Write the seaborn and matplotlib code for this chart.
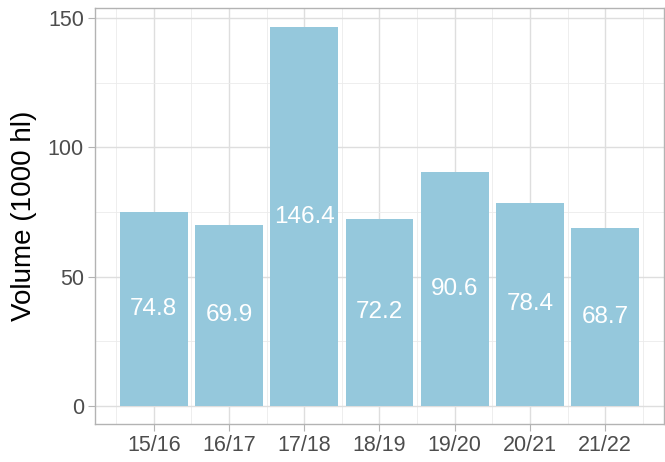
import matplotlib
matplotlib.use("Agg")
import matplotlib.pyplot as plt
import seaborn as sns
import pandas as pd
from matplotlib.ticker import FixedLocator

seasons = ["15/16", "16/17", "17/18", "18/19", "19/20", "20/21", "21/22"]
volumes = [74.8, 69.9, 146.4, 72.2, 90.6, 78.4, 68.7]
y_ticks = [0, 50, 100, 150]

df = pd.DataFrame({"season": seasons, "volume": volumes})

sns.set_theme(style="white")
plt.rcParams["font.family"] = ["Liberation Sans", "DejaVu Sans"]

fig = plt.figure(figsize=(6.65, 4.62), dpi=100)
ax = fig.add_axes([95 / 665, 38 / 462, 569 / 665, 416 / 462])

sns.barplot(data=df, x="season", y="volume", color="#95C8DC", saturation=1,
            width=0.9, ax=ax, zorder=3, linewidth=0, edgecolor="none")

for i, v in enumerate(volumes):
    ax.text(i, v / 2, f"{v:.1f}", ha="center", va="center", color="white",
            fontsize=17.5, zorder=4)

ax.set_xlim(-0.78, 6.78)
ax.set_ylim(-7.0, 153.8)
ax.yaxis.set_major_locator(FixedLocator(y_ticks))
ax.yaxis.set_minor_locator(FixedLocator([25, 75, 125]))
ax.xaxis.set_minor_locator(FixedLocator([i + 0.5 for i in range(-1, 7)]))

ax.grid(True, which="major", color="#DEDEDE", linewidth=1.0, zorder=0)
ax.grid(True, which="minor", color="#EBEBEB", linewidth=0.6, zorder=0)
ax.set_axisbelow(True)

for s in ax.spines.values():
    s.set_color("#B3B3B3")
    s.set_linewidth(1.0)

ax.tick_params(axis="both", which="major", length=5, width=0.8, color="#B3B3B3",
               labelsize=15.5, labelcolor="#4D4D4D", pad=3, left=True, bottom=True)
ax.tick_params(axis="both", which="minor", length=0)

ax.set_xlabel("")
ax.set_ylabel("Volume (1000 hl)", fontsize=20, color="black", labelpad=8)

fig.savefig("out.png", dpi=100)
